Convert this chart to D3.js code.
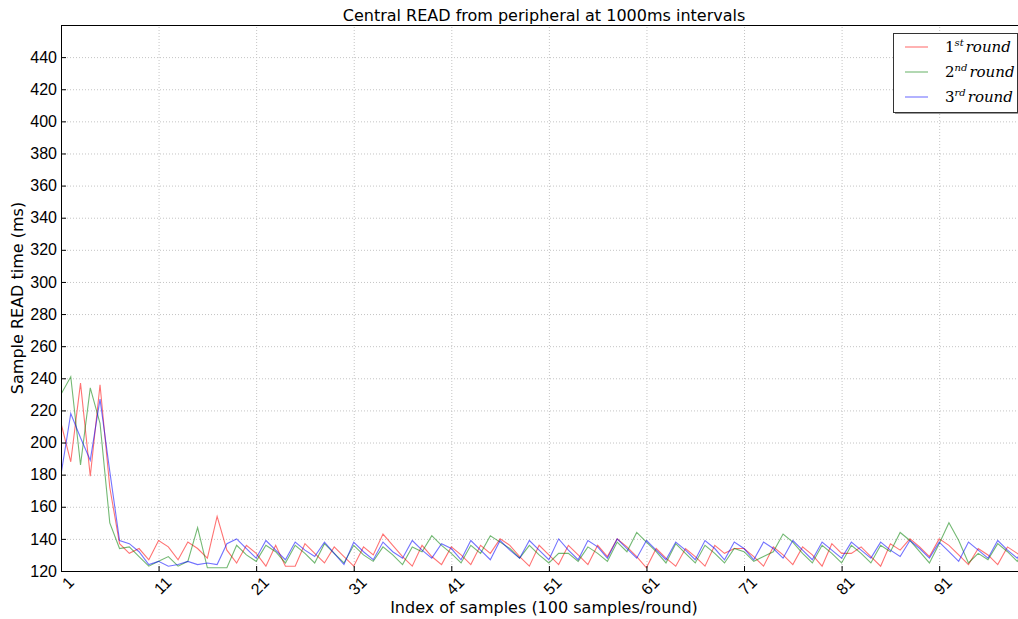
<!DOCTYPE html>
<html>
<head>
<meta charset="utf-8">
<script src="https://cdn.jsdelivr.net/npm/d3@7"></script>
<style>
  body { margin: 0; background: #fff; }
  svg { font-family: "DejaVu Sans", sans-serif; }
  .grid line { stroke: #c4c4c4; stroke-dasharray: 1,2; }
  .grid path { stroke: none; }
  .axis path { stroke: none; }
  .axis line { stroke: #000; }
  .axis text { font-size: 16px; fill: #000; }
</style>
</head>
<body>
<svg id="chart" width="1018" height="619"></svg>
<script>
// values, one per sample index (1..100)
var indices = d3.range(1, 101)

var round1 = [212, 188, 237, 179, 236, 172, 137, 131, 134, 127,
              139, 135, 127, 138, 134, 128, 154, 133, 125, 136,
              131, 123, 136, 123, 123, 137, 131, 125, 135, 129,
              123, 135, 130, 143, 136, 129, 123, 136, 129, 124,
              135, 130, 124, 136, 131, 140, 136, 129, 123, 136,
              130, 124, 136, 130, 124, 136, 129, 140, 135, 129,
              122, 134, 128, 123, 134, 129, 123, 136, 131, 134,
              134, 129, 123, 135, 130, 124, 135, 130, 123, 137,
              131, 131, 135, 129, 123, 137, 133, 140, 135, 129,
              140, 136, 130, 124, 134, 130, 124, 135, 131, 126]

var round2 = [230, 241, 186, 234, 212, 150, 134, 135, 129, 123,
              126, 129, 123, 126, 147, 122, 122, 122, 136, 130,
              126, 136, 132, 125, 136, 131, 125, 137, 131, 125,
              136, 130, 126, 135, 130, 124, 135, 132, 142, 136,
              131, 125, 136, 131, 142, 138, 134, 128, 136, 130,
              125, 131, 131, 126, 135, 131, 126, 138, 132, 144,
              138, 132, 125, 137, 131, 125, 136, 131, 125, 134,
              132, 126, 129, 132, 143, 138, 131, 125, 136, 131,
              125, 136, 131, 125, 136, 132, 144, 139, 132, 125,
              137, 150, 139, 125, 131, 127, 137, 132, 126, 136]

var round3 = [180, 218, 203, 189, 227, 182, 139, 137, 132, 124,
              126, 123, 124, 126, 124, 125, 124, 137, 140, 134,
              128, 139, 133, 127, 138, 133, 129, 138, 131, 124,
              138, 132, 127, 138, 132, 128, 139, 133, 128, 137,
              134, 127, 139, 133, 127, 139, 133, 128, 139, 133,
              127, 140, 133, 127, 139, 135, 128, 140, 134, 128,
              139, 133, 127, 138, 133, 127, 139, 134, 127, 138,
              134, 127, 138, 134, 128, 139, 133, 127, 138, 133,
              128, 138, 133, 128, 138, 133, 129, 139, 134, 128,
              138, 132, 126, 138, 133, 128, 139, 133, 128, 137]

var xTicks = [1, 11, 21, 31, 41, 51, 61, 71, 81, 91]
var yTicks = d3.range(120, 441, 20)

var series = [
    {name: "1", sup: "st", values: round1, color: "#ff0000"},
    {name: "2", sup: "nd", values: round2, color: "#008000"},
    {name: "3", sup: "rd", values: round3, color: "#0000ff"}
]

// plot area (right edge is past the window, like the picture)
var plot = {left: 61, top: 25, right: 1027, bottom: 571}

var svg = d3.select("#chart")

var x = d3.scaleLinear().domain([1, 100]).range([plot.left, plot.right])
var y = d3.scaleLinear().domain([120, 460]).range([plot.bottom, plot.top])

svg.append("defs").append("clipPath")
    .attr("id", "plotclip")
    .append("rect")
    .attr("x", plot.left).attr("y", plot.top)
    .attr("width", plot.right - plot.left).attr("height", plot.bottom - plot.top)

// grid
svg.append("g")
    .attr("class", "grid")
    .attr("transform", "translate(0," + plot.bottom + ")")
    .call(d3.axisBottom(x).tickValues(xTicks).tickSize(-(plot.bottom - plot.top)).tickFormat(""))

svg.append("g")
    .attr("class", "grid")
    .attr("transform", "translate(" + plot.left + ",0)")
    .call(d3.axisLeft(y).tickValues(yTicks).tickSize(-(plot.right - plot.left)).tickFormat(""))

// lines
var line = d3.line()
    .x(function(d, i) { return x(indices[i]) })
    .y(function(d) { return y(d) })

svg.append("g")
    .attr("clip-path", "url(#plotclip)")
    .selectAll("path")
    .data(series)
    .enter()
    .append("path")
        .attr("fill", "none")
        .attr("stroke", function(s) { return s.color })
        .attr("stroke-opacity", 0.55)
        .attr("stroke-width", 1.1)
        .attr("d", function(s) { return line(s.values) })

// frame
svg.append("rect")
    .attr("x", plot.left + 0.5).attr("y", plot.top + 0.5)
    .attr("width", plot.right - plot.left).attr("height", plot.bottom - plot.top)
    .attr("fill", "none")
    .attr("stroke", "#000")
    .attr("stroke-width", 1)

/*y axis*/
svg.append("g")
    .attr("class", "axis")
    .attr("transform", "translate(" + plot.left + ",0)")
    .call(d3.axisLeft(y).tickValues(yTicks).tickSize(-5).tickPadding(4))

/*x axis*/
var xAxis = svg.append("g")
    .attr("class", "axis")
    .attr("transform", "translate(0," + plot.bottom + ")")
    .call(d3.axisBottom(x).tickValues(xTicks).tickSize(-5).tickFormat(""))

xAxis.selectAll(".tick")
    .append("text")
    .attr("text-anchor", "end")
    .attr("transform", "translate(5,4) rotate(-45)")
    .attr("dy", "0.75em")
    .text(function(d) { return d })

// title and labels
svg.append("text")
    .attr("x", (plot.left + plot.right) / 2)
    .attr("y", 21)
    .attr("text-anchor", "middle")
    .style("font-size", "16px")
    .text("Central READ from peripheral at 1000ms intervals")

svg.append("text")
    .attr("x", (plot.left + plot.right) / 2)
    .attr("y", 613)
    .attr("text-anchor", "middle")
    .style("font-size", "16px")
    .text("Index of samples (100 samples/round)")

svg.append("text")
    .attr("transform", "translate(23," + ((plot.top + plot.bottom) / 2) + ") rotate(-90)")
    .attr("text-anchor", "middle")
    .style("font-size", "16px")
    .text("Sample READ time (ms)")

// legend
var legend = svg.append("g")
    .attr("transform", "translate(893,33)")

legend.append("rect")
    .attr("x", 2).attr("y", 2)
    .attr("width", 124).attr("height", 79)
    .attr("fill", "#999")

legend.append("rect")
    .attr("x", 0.5).attr("y", 0.5)
    .attr("width", 124).attr("height", 79)
    .attr("fill", "#fff")
    .attr("stroke", "#333")

var item = legend.selectAll(".item")
    .data(series)
    .enter()
    .append("g")
        .attr("class", "item")
        .attr("transform", function(s, i) { return "translate(0," + (14 + i * 25) + ")" })

item.append("line")
    .attr("x1", 12).attr("x2", 35)
    .attr("y1", 0).attr("y2", 0)
    .attr("stroke", function(s) { return s.color })
    .attr("stroke-opacity", 0.55)
    .attr("stroke-width", 1.1)

var label = item.append("text")
    .attr("x", 52)
    .attr("y", 5)
    .style("font-family", "'DejaVu Serif', serif")
    .style("font-size", "15px")

label.append("tspan").text(function(s) { return s.name })
label.append("tspan")
    .attr("dy", -6)
    .style("font-size", "10px")
    .style("font-style", "italic")
    .text(function(s) { return s.sup })
label.append("tspan")
    .attr("dy", 6)
    .attr("dx", 2)
    .style("font-style", "italic")
    .text(function(s) { return "round" })
</script>
</body>
</html>
